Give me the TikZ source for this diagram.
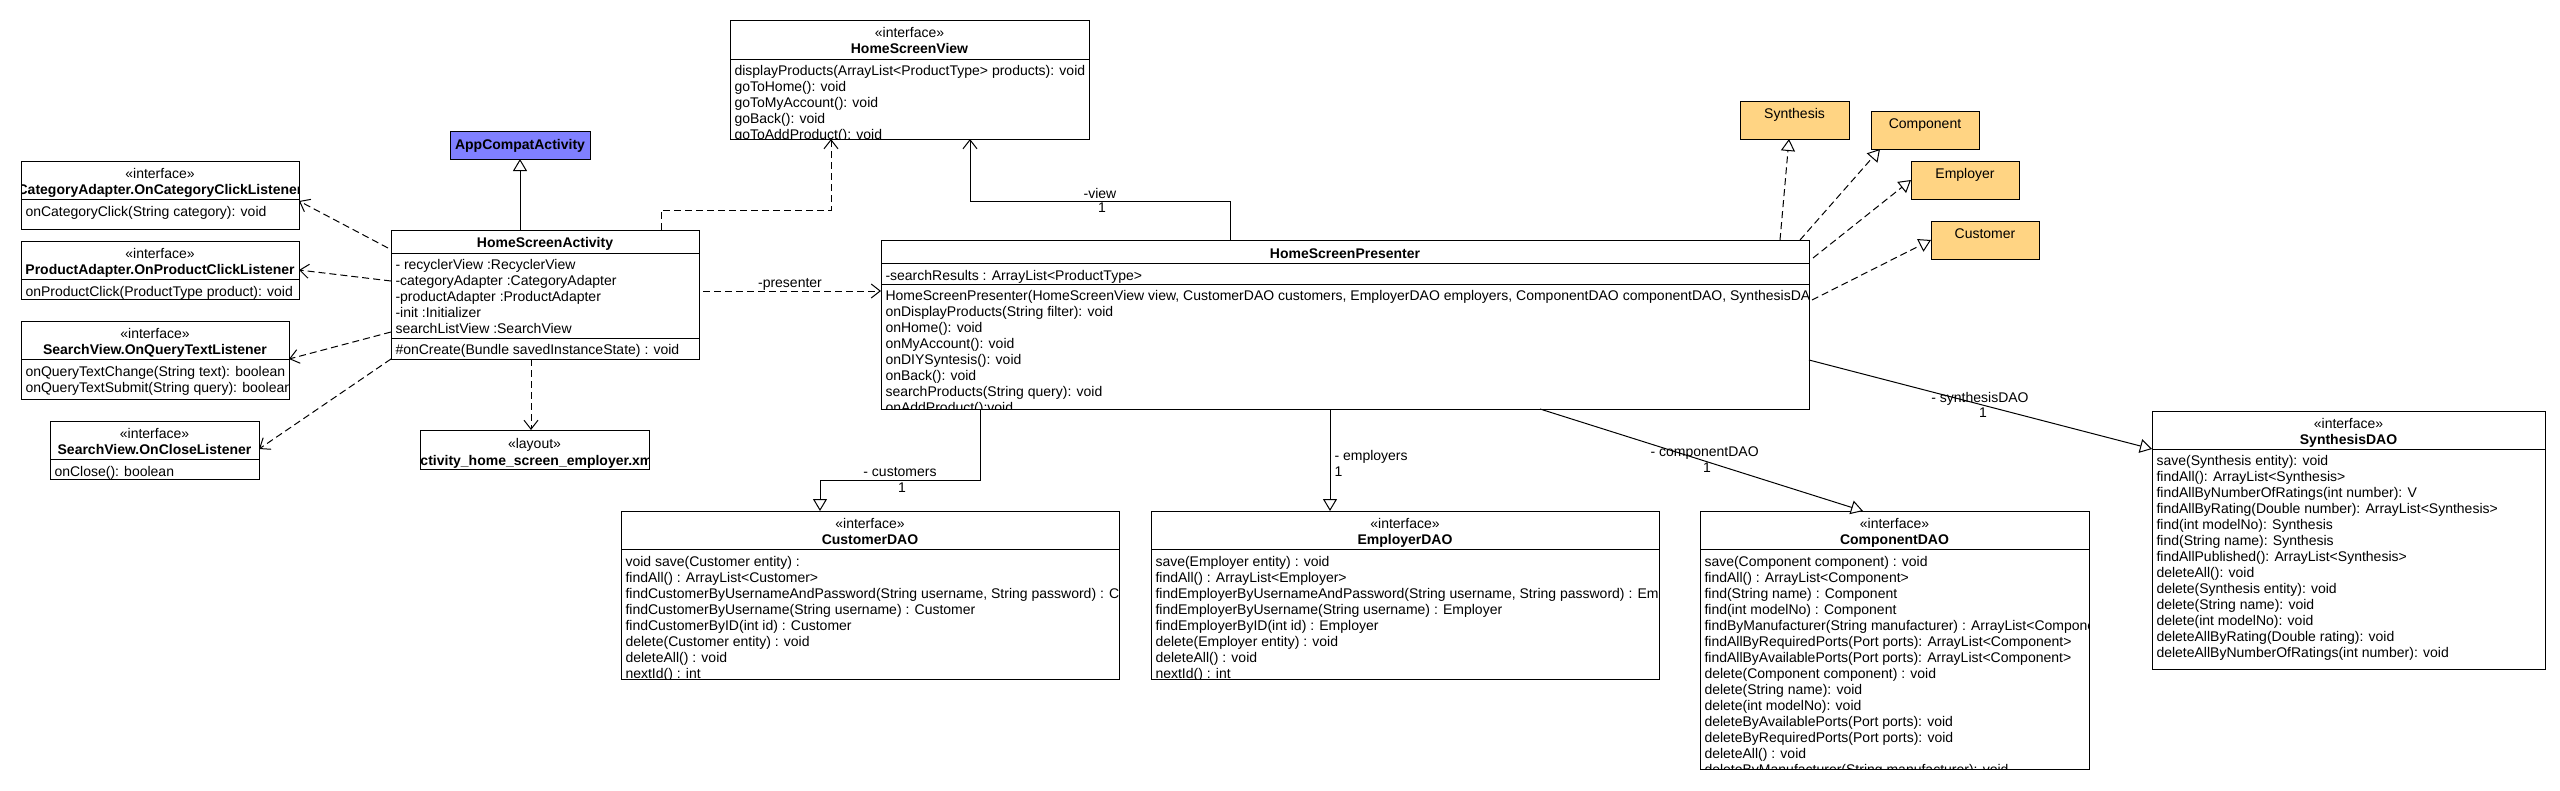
\documentclass[tikz,border=0pt]{standalone}
\usepackage{fontspec}
\setmainfont{Liberation Sans}
\usetikzlibrary{arrows.meta}
\definecolor{appblue}{RGB}{128,128,255}
\definecolor{entorange}{RGB}{255,212,131}
\newcommand\ulines[4]{\foreach \t [count=\i from 0] in {#4} {\node[txt] (#1-\i) at (#2,{#3+16*\i}) {\t};}}
\newcommand\ubox[6][]{\node[box,minimum width=#5pt,minimum height=#6pt,#1] (#2) at (#3,#4) {};}
\newcommand\usep[2]{\draw (#1.west |- 0,#2) -- (#1.east |- 0,#2);}
\newcommand\uclip[1]{\clip (#1.north west) rectangle (#1.south east);}
\begin{document}
\begin{tikzpicture}[x=1pt,y=-1pt,line width=1pt,
 box/.style={draw=black,fill=white,anchor=north west,inner sep=0pt,outer sep=0pt},
 txt/.style={font=\fontsize{14}{16}\selectfont,inner sep=0pt,anchor=base west},
 ctr/.style={font=\fontsize{14}{16}\selectfont,inner sep=0pt,anchor=base},
 ttl/.style={font=\fontsize{14}{16}\selectfont\bfseries,inner sep=0pt,anchor=base},
 dsh/.style={dash pattern=on 7pt off 4pt},
 dep/.style={dsh,-{Straight Barb[length=9pt,width=14pt]}},
 real/.style={dsh,-{Triangle[open,fill=white,length=12pt,width=14pt]}},
 nav/.style={-{Straight Barb[length=9pt,width=14pt]}},
 assoc/.style={-{Triangle[open,fill=white,length=12pt,width=14pt]}}]
\fill[white] (0,0) rectangle (2560,790);
\useasboundingbox (0,0) rectangle (2560,790);

% ---- left interfaces
\ubox{catL}{21}{161}{278}{68}
\usep{catL}{199}
\begin{scope}\uclip{catL}
\node[ctr] (catL-st) at (160,178) {«interface»};
\node[ttl] (catL-t) at (160,194) {CategoryAdapter.OnCategoryClickListener};
\ulines{catL-m}{25}{216}{onCategoryClick(String category): void}
\end{scope}

\ubox{prodL}{21}{241}{278}{58}
\usep{prodL}{279}
\begin{scope}\uclip{prodL}
\node[ctr] (prodL-st) at (160,258) {«interface»};
\node[ttl] (prodL-t) at (160,274) {ProductAdapter.OnProductClickListener};
\ulines{prodL-m}{25}{296}{onProductClick(ProductType product): void}
\end{scope}

\ubox{qtL}{21}{321}{268}{78}
\usep{qtL}{359}
\begin{scope}\uclip{qtL}
\node[ctr] (qtL-st) at (155,338) {«interface»};
\node[ttl] (qtL-t) at (155,354) {SearchView.OnQueryTextListener};
\ulines{qtL-m}{25}{376}{onQueryTextChange(String text): boolean,onQueryTextSubmit(String query): boolean}
\end{scope}

\ubox{closeL}{50}{421}{209}{58}
\usep{closeL}{459}
\begin{scope}\uclip{closeL}
\node[ctr] (closeL-st) at (154.5,438) {«interface»};
\node[ttl] (closeL-t) at (154.5,454) {SearchView.OnCloseListener};
\ulines{closeL-m}{54}{476}{onClose(): boolean}
\end{scope}

% ---- HomeScreenView
\ubox{hsv}{730}{20}{359}{119}
\usep{hsv}{59}
\begin{scope}\uclip{hsv}
\node[ctr] (hsv-st) at (909.5,37) {«interface»};
\node[ttl] (hsv-t) at (909.5,53) {HomeScreenView};
\ulines{hsv-m}{734}{75}{displayProducts(ArrayList<ProductType> products): void,goToHome(): void,goToMyAccount(): void,goBack(): void,goToAddProduct(): void}
\end{scope}

% ---- AppCompatActivity
\ubox[fill=appblue]{acomp}{450}{131}{140}{28}
\node[ttl] (acomp-t) at (520,149) {AppCompatActivity};

% ---- HomeScreenActivity
\ubox{hsa}{391}{230}{308}{129}
\usep{hsa}{253}
\usep{hsa}{338}
\begin{scope}\uclip{hsa}
\node[ttl] (hsa-t) at (545,247) {HomeScreenActivity};
\ulines{hsa-a}{395}{269}{- recyclerView :RecyclerView,-categoryAdapter :CategoryAdapter,-productAdapter :ProductAdapter,-init :Initializer,searchListView :SearchView}
\ulines{hsa-m}{395}{354}{\#onCreate(Bundle savedInstanceState) : void}
\end{scope}

% ---- layout
\ubox{lay}{420}{430}{229}{39}
\begin{scope}\uclip{lay}
\node[ctr] (lay-st) at (534.5,448) {«layout»};
\node[ttl] (lay-t) at (534.5,465) {activity\_home\_screen\_employer.xml};
\end{scope}

% ---- HomeScreenPresenter
\ubox{pres}{881}{240}{928}{169}
\usep{pres}{263}
\usep{pres}{284}
\begin{scope}\uclip{pres}
\node[ttl] (pres-t) at (1345,258) {HomeScreenPresenter};
\ulines{pres-a}{885}{280}{-searchResults : ArrayList<ProductType>}
\ulines{pres-m}{885}{300}{{HomeScreenPresenter(HomeScreenView view, CustomerDAO customers, EmployerDAO employers, ComponentDAO componentDAO, SynthesisDAO synthesisDAO)},onDisplayProducts(String filter): void,onHome(): void,onMyAccount(): void,onDIYSyntesis(): void,onBack(): void,searchProducts(String query): void,onAddProduct():void}
\end{scope}

% ---- entity boxes
\ubox[fill=entorange]{synth}{1740}{101}{109}{38}
\node[ctr] (synth-t) at (1794.5,118) {Synthesis};
\ubox[fill=entorange]{compo}{1871}{111}{108}{38}
\node[ctr] (compo-t) at (1925,128) {Component};
\ubox[fill=entorange]{empl}{1911}{161}{108}{38}
\node[ctr] (empl-t) at (1965,178) {Employer};
\ubox[fill=entorange]{custo}{1931}{221}{108}{38}
\node[ctr] (custo-t) at (1985,238) {Customer};

% ---- CustomerDAO
\ubox{cdao}{621}{511}{498}{168}
\usep{cdao}{549}
\begin{scope}\uclip{cdao}
\node[ctr] (cdao-st) at (870,528) {«interface»};
\node[ttl] (cdao-t) at (870,544) {CustomerDAO};
\ulines{cdao-m}{625}{566}{void save(Customer entity) :,findAll() :  ArrayList<Customer>,{findCustomerByUsernameAndPassword(String username, String password) : Customer},findCustomerByUsername(String username) :  Customer,findCustomerByID(int id) :  Customer,delete(Customer entity) :  void,deleteAll() :  void,nextId() : int}
\end{scope}

% ---- EmployerDAO
\ubox{edao}{1151}{511}{508}{168}
\usep{edao}{549}
\begin{scope}\uclip{edao}
\node[ctr] (edao-st) at (1405,528) {«interface»};
\node[ttl] (edao-t) at (1405,544) {EmployerDAO};
\ulines{edao-m}{1155}{566}{save(Employer entity) : void,findAll() :   ArrayList<Employer>,{findEmployerByUsernameAndPassword(String username, String password) :  Employer},findEmployerByUsername(String username) :   Employer,findEmployerByID(int id) : Employer,delete(Employer entity) : void,deleteAll() : void,nextId() : int}
\end{scope}

% ---- ComponentDAO
\ubox{compdao}{1700}{511}{389}{258}
\usep{compdao}{549}
\begin{scope}\uclip{compdao}
\node[ctr] (compdao-st) at (1894.5,528) {«interface»};
\node[ttl] (compdao-t) at (1894.5,544) {ComponentDAO};
\ulines{compdao-m}{1704}{566}{save(Component component) : void,findAll() :   ArrayList<Component>,find(String name) :   Component,find(int modelNo) :   Component,findByManufacturer(String manufacturer) :  ArrayList<Component>,findAllByRequiredPorts(Port ports):  ArrayList<Component>,findAllByAvailablePorts(Port ports): ArrayList<Component>,delete(Component component) : void,delete(String name): void,delete(int modelNo): void,deleteByAvailablePorts(Port ports): void,deleteByRequiredPorts(Port ports): void,deleteAll() : void,deleteByManufacturer(String manufacturer): void}
\end{scope}

% ---- SynthesisDAO
\ubox{sdao}{2152}{411}{393}{258}
\usep{sdao}{449}
\begin{scope}\uclip{sdao}
\node[ctr] (sdao-st) at (2348.5,428) {«interface»};
\node[ttl] (sdao-t) at (2348.5,444) {SynthesisDAO};
\ulines{sdao-m}{2156}{465}{save(Synthesis entity): void,findAll():  ArrayList<Synthesis>,findAllByNumberOfRatings(int number): V,findAllByRating(Double number):   ArrayList<Synthesis>,find(int modelNo): Synthesis,find(String name): Synthesis,findAllPublished():   ArrayList<Synthesis>,deleteAll(): void,delete(Synthesis entity): void,delete(String name): void,delete(int modelNo): void,deleteAllByRating(Double rating): void,deleteAllByNumberOfRatings(int number): void}
\end{scope}

% ---- connectors from HomeScreenActivity
\draw[assoc] (acomp.south |- hsa.north) -- (acomp.south);
\draw[dep] ([xshift=270pt]hsa.north west) -- ++(0,-20) -| ([xshift=101pt]hsv.south west);
\draw[dep] ([xshift=140pt]hsa.south west) -- ([xshift=111pt]lay.north west);
\draw[dep] ([xshift=-3pt,yshift=-18pt]hsa.north west) -- ([yshift=-40pt]catL.north east);
\draw[dep] ([yshift=-51pt]hsa.north west) -- ([yshift=-29pt]prodL.north east);
\draw[dep] ([yshift=-102pt]hsa.north west) -- ([yshift=-38pt]qtL.north east);
\draw[dep] (hsa.south west) -- ([yshift=-28pt]closeL.north east);
\draw[dep] ([xshift=4pt,yshift=-61pt]hsa.north east) -- ([yshift=-51pt]pres.north west);
\node[ctr] (lpres) at (790,287) {-presenter};

% ---- connectors from HomeScreenPresenter
\draw[nav] ([xshift=349pt]pres.north west) -- ++(0,-39) -| ([xshift=240pt]hsv.south west);
\node[ctr] (lview) at (1100,198) {-view};
\node[ctr] (lview1) at (1102,212) {1};

\draw[assoc] ([xshift=99pt]pres.south west) -- ++(0,71) -| ([xshift=199pt]cdao.north west);
\node[ctr] (lcust) at (900,476) {- customers};
\node[ctr] (lcust1) at (902,492) {1};

\draw[assoc] ([xshift=449pt]pres.south west) -- ([xshift=179pt]edao.north west);
\node[txt] (lemp) at (1334,460) {- employers};
\node[txt] (lemp1) at (1334,476) {1};

\draw[assoc] ([xshift=659pt]pres.south west) -- ([xshift=163pt]compdao.north west);
\node[txt] (lcomp) at (1650,456) {- componentDAO};
\node[ctr] (lcomp1) at (1707,472) {1};

\draw[assoc] ([yshift=-120pt]pres.north east) -- ([yshift=-38pt]sdao.north west);
\node[ctr] (lsyn) at (1980,402) {- synthesisDAO};
\node[ctr] (lsyn1) at (1983,417) {1};

\draw[real] ([xshift=899pt]pres.north west) -- ([xshift=49pt]synth.south west);
\draw[real] ([xshift=919pt]pres.north west) -- ([xshift=9pt]compo.south west);
\draw[real] ([xshift=4pt,yshift=-18pt]pres.north east) -- ([yshift=-19pt]empl.north west);
\draw[real] ([xshift=3pt,yshift=-60pt]pres.north east) -- ([yshift=-19pt]custo.north west);
\end{tikzpicture}
\end{document}
